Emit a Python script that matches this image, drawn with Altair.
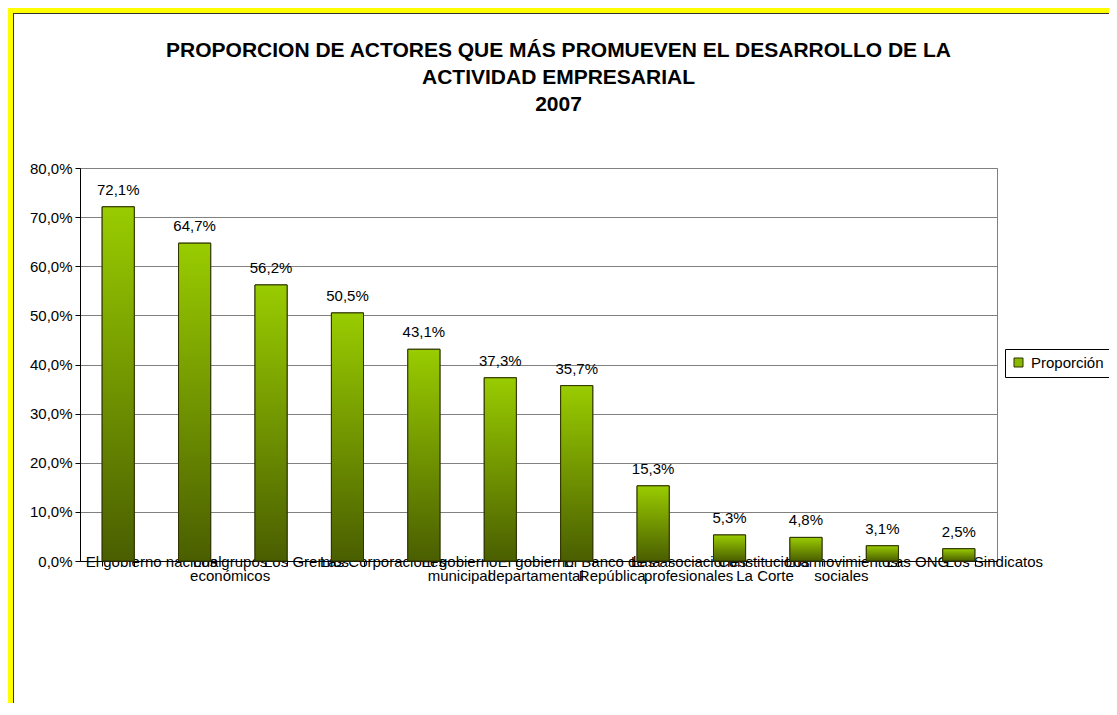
import altair as alt
import pandas as pd

# ---- data ----
actores = [
    "El gobierno nacional",
    "Los grupos|económicos",
    "Los Gremios",
    "Las Corporaciones",
    "El gobierno|municipal",
    "El gobierno|departamental",
    "El Banco de la|República",
    "Las asociaciones|profesionales",
    "Constitucional|La Corte",
    "Los movimientos|sociales",
    "Las ONG",
    "Los Sindicatos",
]
valores = [0.721, 0.647, 0.562, 0.505, 0.431, 0.373, 0.357, 0.153, 0.053, 0.048, 0.031, 0.025]
serie = "Proporción"
ticks_y = [0.0, 0.1, 0.2, 0.3, 0.4, 0.5, 0.6, 0.7, 0.8]
titulo = [
    "PROPORCION DE ACTORES QUE MÁS PROMUEVEN EL DESARROLLO DE LA",
    "ACTIVIDAD EMPRESARIAL",
    "2007",
]

df = pd.DataFrame({"actor": actores, "valor": valores, "serie": [serie] * len(actores)})

FONT = "Liberation Sans, Arial, Helvetica, sans-serif"
W, H = 917, 393

x_enc = alt.X(
    "actor:N",
    sort=actores,
    scale=alt.Scale(paddingInner=0.58, paddingOuter=0.29),
    axis=alt.Axis(
        title=None,
        domainColor="black",
        tickColor="black",
        tickSize=5,
        tickBand="extent",
        labelAngle=0,
        labelFont=FONT,
        labelFontSize=15,
        labelColor="black",
        labelOffset=35,
        labelPadding=0,
        labelBaseline="alphabetic",
        labelLineHeight=14,
        labelOverlap=False,
        labelLimit=400,
        labelExpr="split(datum.label, '|')",
    ),
)
y_enc = alt.Y(
    "valor:Q",
    scale=alt.Scale(domain=[0, 0.8], nice=False),
    axis=alt.Axis(
        title=None,
        values=ticks_y,
        labelExpr="replace(format(datum.value, '.1%'), '.', ',')",
        domainColor="black",
        tickColor="black",
        tickSize=5,
        labelFont=FONT,
        labelFontSize=15,
        labelColor="black",
        labelPadding=3,
        grid=True,
        gridColor="#808080",
        gridWidth=1,
    ),
)

base = alt.Chart(df).encode(x=x_enc, y=y_enc)

bars_legend = base.mark_bar(stroke="#2E3300", strokeWidth=1).encode(
    color=alt.Color(
        "serie:N",
        scale=alt.Scale(range=["#88B800"]),
        legend=alt.Legend(
            title=None,
            orient="none",
            legendX=925,
            legendY=181,
            strokeColor="black",
            fillColor="white",
            padding=6,
            symbolType="square",
            symbolSize=81,
            symbolStrokeColor="#2E3300",
            symbolStrokeWidth=1,
            labelFont=FONT,
            labelFontSize=15,
            labelColor="black",
            labelOffset=5,
        ),
    )
)

bars = base.mark_bar(
    fill=alt.Gradient(
        gradient="linear",
        stops=[
            alt.GradientStop(color="#99CC00", offset=0),
            alt.GradientStop(color="#4A5E00", offset=1),
        ],
        x1=0, x2=0, y1=0, y2=1,
    ),
    stroke="#2E3300",
    strokeWidth=1,
)

labels = base.mark_text(
    font=FONT, fontSize=15, color="black", baseline="alphabetic", dy=-12
).transform_calculate(
    etiqueta="replace(format(datum.valor, '.1%'), '.', ',')"
).encode(text="etiqueta:N")

one = alt.Data(values=[{"k": 1}])
yellow_left = alt.Chart(one).mark_rule(color="#FFFF00", strokeWidth=5).encode(
    x=alt.value(-69.5), y=alt.value(-160), y2=alt.value(560)
)
yellow_top = alt.Chart(one).mark_rule(color="#FFFF00", strokeWidth=5).encode(
    y=alt.value(-157.5), x=alt.value(-72), x2=alt.value(1050)
)
dark_left = alt.Chart(one).mark_rule(color="#333333", strokeWidth=1).encode(
    x=alt.value(-66.5), y=alt.value(-155), y2=alt.value(560)
)
dark_top = alt.Chart(one).mark_rule(color="#333333", strokeWidth=1).encode(
    y=alt.value(-154.5), x=alt.value(-67), x2=alt.value(1050)
)

chart = alt.layer(
    yellow_left, yellow_top, dark_left, dark_top, bars_legend, bars, labels
).properties(
    width=W,
    height=H,
    title=alt.TitleParams(
        text=titulo,
        font=FONT,
        fontSize=21,
        fontWeight="bold",
        color="black",
        anchor="middle",
        frame="group",
        baseline="top",
        lineHeight=27,
        offset=0,
        dx=20,
        dy=109,
    ),
    autosize=alt.AutoSizeParams(type="none"),
    padding={"left": 72, "top": 160, "right": 112, "bottom": 142},
    background="white",
).configure_view(stroke="#808080", strokeWidth=1)

chart.save("out.html", embed_options={"renderer": "svg", "actions": False})
